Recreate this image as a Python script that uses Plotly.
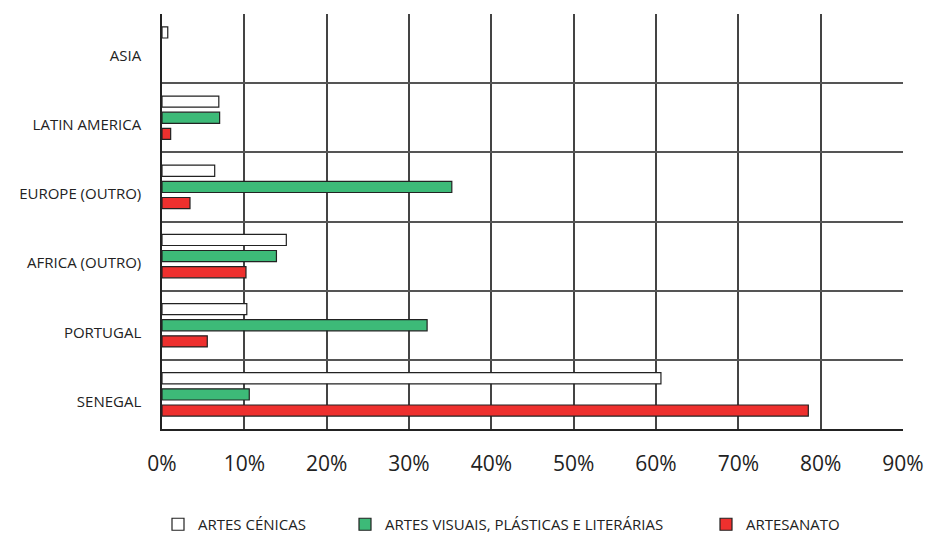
import plotly.graph_objects as go

categories = ["ASIA", "LATIN AMERICA", "EUROPE (OUTRO)", "AFRICA (OUTRO)", "PORTUGAL", "SENEGAL"]
artes_cenicas = [0.7, 6.9, 6.4, 15.1, 10.3, 60.6]
artes_visuais = [None, 7.0, 35.2, 13.9, 32.2, 10.6]
artesanato = [None, 1.05, 3.4, 10.2, 5.5, 78.5]
series_names = ["ARTES CÉNICAS", "ARTES VISUAIS, PLÁSTICAS E LITERÁRIAS", "ARTESANATO"]
tick_vals = [0, 10, 20, 30, 40, 50, 60, 70, 80, 90]
tick_text = ["0%", "10%", "20%", "30%", "40%", "50%", "60%", "70%", "80%", "90%"]

colors = ["#ffffff", "#3dba78", "#ee302e"]
series = [artes_cenicas, artes_visuais, artesanato]
legend_ids = ["legend", "legend2", "legend3"]
legend_x = [158 / 930, 345 / 930, 706 / 930]

fig = go.Figure()
for name, vals, col, lid in zip(series_names, series, colors, legend_ids):
    fig.add_trace(go.Bar(
        y=categories, x=vals, name=name, orientation="h", legend=lid,
        marker=dict(color=col, line=dict(color="#222222", width=1.2)),
    ))

legend_style = dict(orientation="h", xref="container", yref="container",
                    y=(537 - 508) / 537, xanchor="left", yanchor="top",
                    font=dict(size=15, color="#222222"), bgcolor="rgba(0,0,0,0)")
fig.update_layout(
    width=930, height=537,
    margin=dict(l=162, r=27, t=14, b=108, autoexpand=False),
    paper_bgcolor="white", plot_bgcolor="white",
    barmode="group", bargap=0.30, bargroupgap=0.31,
    font=dict(family="Open Sans", color="#222222"),
    showlegend=True,
    legend=dict(x=legend_x[0], **legend_style),
    legend2=dict(x=legend_x[1], **legend_style),
    legend3=dict(x=legend_x[2], **legend_style),
)
fig.update_xaxes(
    range=[0, 90], tickvals=tick_vals, ticktext=tick_text,
    showgrid=True, gridcolor="#444444", gridwidth=1.5,
    showline=True, linecolor="#222222", linewidth=1.5,
    zeroline=False, ticks="", ticklabelstandoff=15, automargin=False,
    tickfont=dict(size=21, color="#222222"),
)
fig.update_yaxes(
    type="category", categoryorder="array", categoryarray=categories,
    autorange="reversed", tickson="boundaries",
    showgrid=True, gridcolor="#555555", gridwidth=1.5,
    showline=True, linecolor="#222222", linewidth=1.5,
    zeroline=False, ticks="", ticklabelstandoff=16, automargin=False,
    ticklabelshift=-7,
    tickfont=dict(size=15, color="#222222"),
)

fig.write_html("out.html")
